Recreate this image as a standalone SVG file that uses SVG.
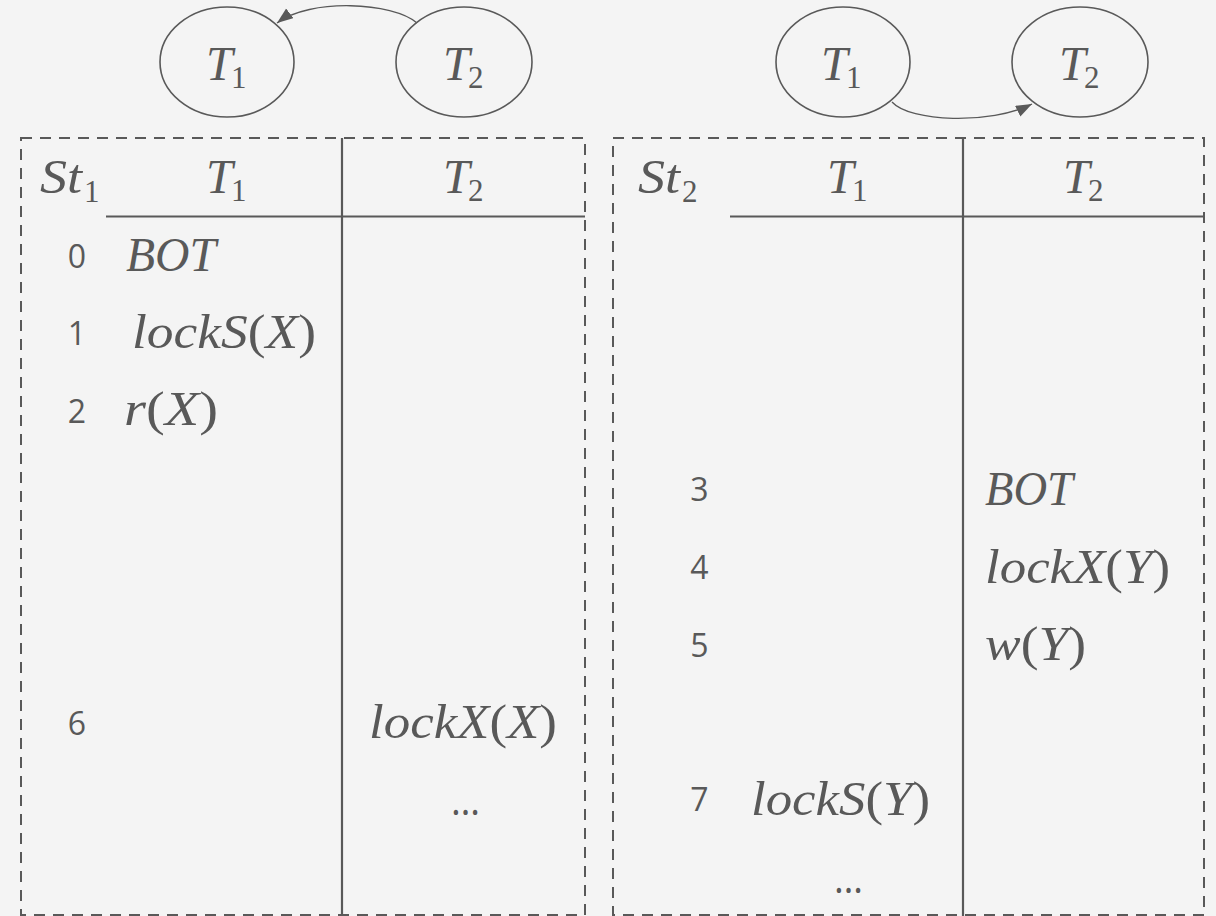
<svg xmlns="http://www.w3.org/2000/svg" width="1216" height="916" viewBox="0 0 1216 916">
<style>
.bg{fill:#f4f4f4}
.node{fill:none;stroke:#595959;stroke-width:1.6}
.box{fill:none;stroke:#595959;stroke-width:2;stroke-dasharray:11 8}
.rule{stroke:#595959;stroke-width:2.2;fill:none}
.edge{fill:none;stroke:#595959;stroke-width:1.3}
.m{font-family:"Liberation Serif",serif;font-style:italic;font-size:48px;fill:#595959}
.s{font-style:normal;font-size:31px}
.p{font-style:normal}
.n{font-family:"Open Sans","Noto Sans",sans-serif;font-size:32px;fill:#595959;text-anchor:middle}
.d{font-family:"Open Sans","Noto Sans",sans-serif;font-size:40px;fill:#595959}
</style>
<defs>
<marker id="ah" markerUnits="userSpaceOnUse" markerWidth="17" markerHeight="13" refX="16" refY="6" orient="auto">
<path d="M0,0 L16,6 L0,12 z" fill="#595959"/>
</marker>
</defs>
<rect class="bg" x="0" y="0" width="1216" height="916"/>

<g id="connectors">
<path class="edge" d="M417,23 C393,2 310,-2 277,23" marker-end="url(#ah)"/>
<path class="edge" d="M892,102 C910,122 990,125 1032,104" marker-end="url(#ah)"/>
</g>

<g id="graph1-T1">
<ellipse class="node" cx="227" cy="62" rx="67" ry="55"/>
<text class="m" x="206" y="80">T<tspan class="s" x="231" dy="8">1</tspan></text>
</g>
<g id="graph1-T2">
<ellipse class="node" cx="464" cy="62" rx="68" ry="55"/>
<text class="m" x="443" y="80">T<tspan class="s" x="468" dy="8">2</tspan></text>
</g>
<g id="graph2-T1">
<ellipse class="node" cx="843" cy="62" rx="67" ry="55"/>
<text class="m" x="821" y="80">T<tspan class="s" x="846" dy="8">1</tspan></text>
</g>
<g id="graph2-T2">
<ellipse class="node" cx="1080" cy="62" rx="68" ry="55"/>
<text class="m" x="1059" y="80">T<tspan class="s" x="1084" dy="8">2</tspan></text>
</g>

<g id="schedule1">
<rect class="box" x="21" y="138" width="564" height="777"/>
<line class="rule" x1="342" y1="138" x2="342" y2="916"/>
<line class="rule" x1="106" y1="216.5" x2="585" y2="216.5"/>
<text class="m" x="40" y="193"><tspan textLength="42" lengthAdjust="spacingAndGlyphs">St</tspan><tspan class="s" x="84" dy="9">1</tspan></text>
<text class="m" x="206" y="193">T<tspan class="s" x="231" dy="8">1</tspan></text>
<text class="m" x="443" y="193">T<tspan class="s" x="468" dy="8">2</tspan></text>
<text class="n" x="77" y="268">0</text>
<text class="n" x="77" y="345">1</text>
<text class="n" x="77" y="423">2</text>
<text class="n" x="77" y="735">6</text>
<text class="m" x="126" y="271" textLength="90" lengthAdjust="spacingAndGlyphs">BOT</text>
<text class="m" x="132" y="348" textLength="184" lengthAdjust="spacingAndGlyphs">lockS<tspan class="p">(</tspan>X<tspan class="p">)</tspan></text>
<text class="m" x="124" y="425" textLength="94" lengthAdjust="spacingAndGlyphs">r<tspan class="p">(</tspan>X<tspan class="p">)</tspan></text>
<text class="m" x="369" y="738" textLength="188" lengthAdjust="spacingAndGlyphs">lockX<tspan class="p">(</tspan>X<tspan class="p">)</tspan></text>
<text class="d" x="451" y="815" textLength="29" lengthAdjust="spacingAndGlyphs">…</text>
</g>

<g id="schedule2">
<rect class="box" x="613" y="138" width="591" height="777"/>
<line class="rule" x1="963" y1="138" x2="963" y2="916"/>
<line class="rule" x1="730" y1="216.5" x2="1204" y2="216.5"/>
<text class="m" x="638" y="193"><tspan textLength="42" lengthAdjust="spacingAndGlyphs">St</tspan><tspan class="s" x="682" dy="9">2</tspan></text>
<text class="m" x="827" y="193">T<tspan class="s" x="852" dy="8">1</tspan></text>
<text class="m" x="1063" y="193">T<tspan class="s" x="1088" dy="8">2</tspan></text>
<text class="n" x="699.5" y="501">3</text>
<text class="n" x="699.5" y="579">4</text>
<text class="n" x="699.5" y="657">5</text>
<text class="n" x="699.5" y="811">7</text>
<text class="m" x="985" y="505" textLength="88" lengthAdjust="spacingAndGlyphs">BOT</text>
<text class="m" x="985" y="583" textLength="185" lengthAdjust="spacingAndGlyphs">lockX<tspan class="p">(</tspan>Y<tspan class="p">)</tspan></text>
<text class="m" x="985" y="660" textLength="101" lengthAdjust="spacingAndGlyphs">w<tspan class="p">(</tspan>Y<tspan class="p">)</tspan></text>
<text class="m" x="751" y="815" textLength="179" lengthAdjust="spacingAndGlyphs">lockS<tspan class="p">(</tspan>Y<tspan class="p">)</tspan></text>
<text class="d" x="834" y="893" textLength="29" lengthAdjust="spacingAndGlyphs">…</text>
</g>
</svg>
